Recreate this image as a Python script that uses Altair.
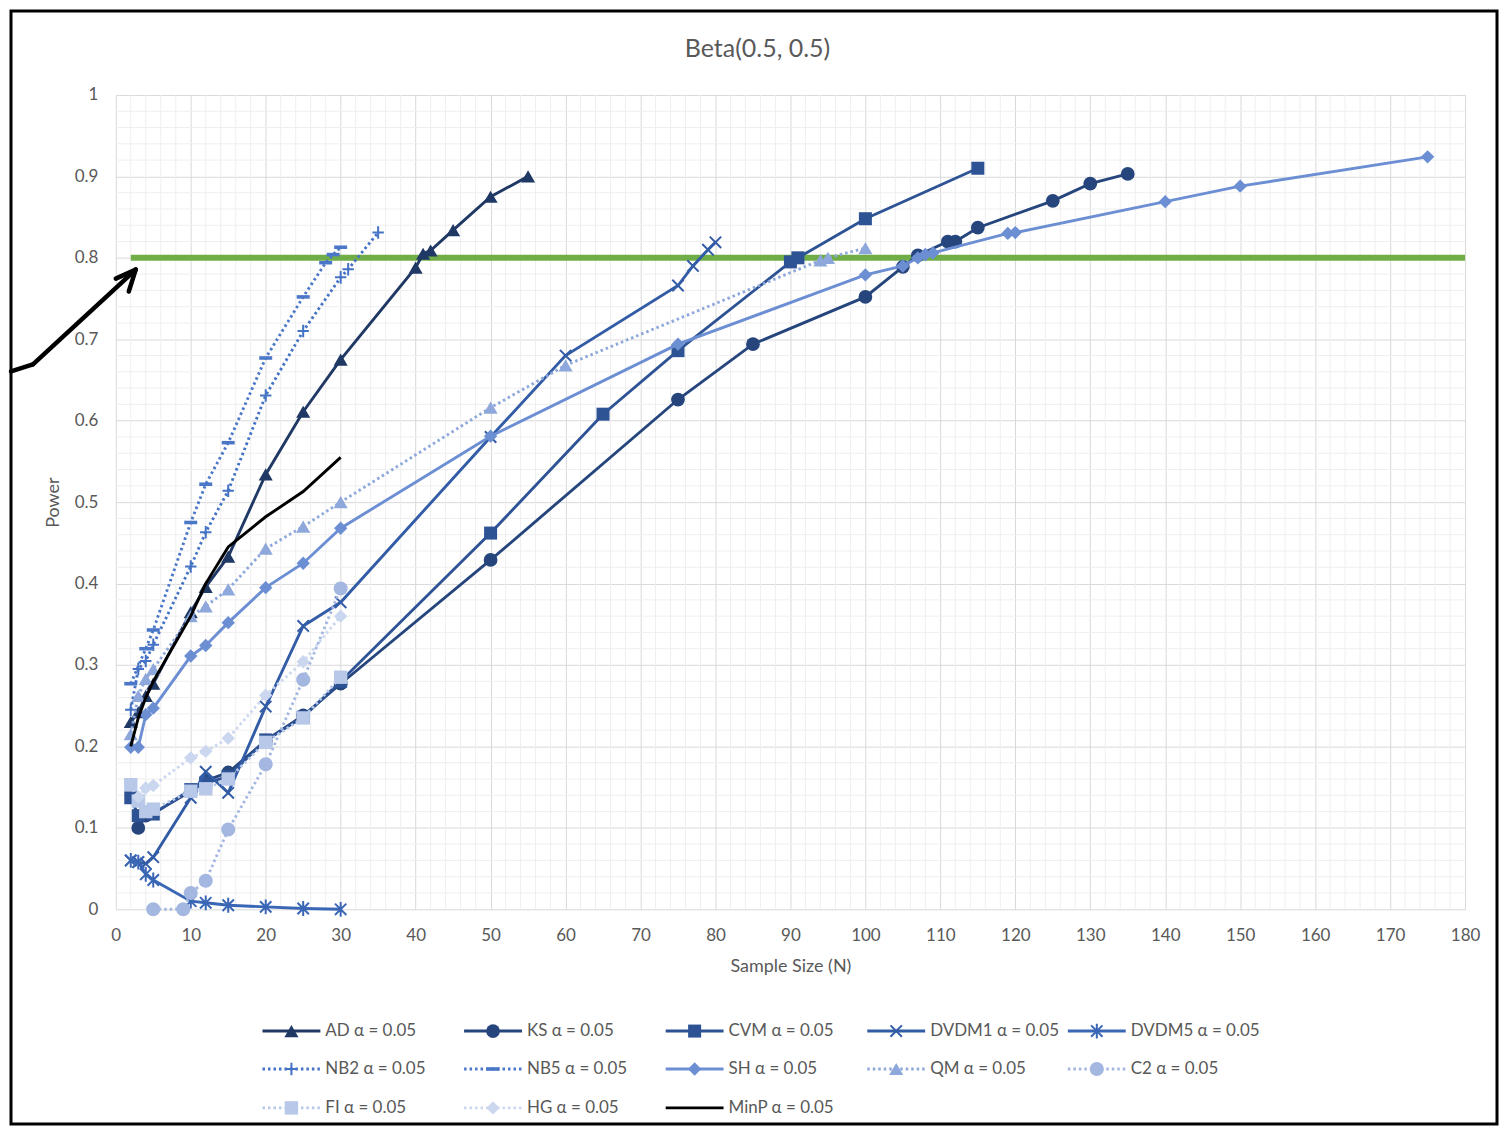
import altair as alt
import pandas as pd

TITLE = "Beta(0.5, 0.5)"
X_TITLE = "Sample Size (N)"
Y_TITLE = "Power"
TARGET_POWER = 0.8
TARGET_N = [2, 180]

AD_N = [2, 3, 4, 5, 10, 12, 15, 20, 25, 30, 40, 41, 42, 45, 50, 55]
AD_P = [0.23, 0.242, 0.262, 0.277, 0.365, 0.396, 0.433, 0.534, 0.611, 0.675, 0.788, 0.805, 0.809, 0.834, 0.875, 0.90]

KS_N = [3, 4, 5, 10, 12, 15, 20, 25, 30, 50, 75, 85, 100, 105, 107, 111, 112, 115, 125, 130, 135]
KS_P = [0.10, 0.115, 0.118, 0.145, 0.158, 0.168, 0.207, 0.238, 0.277, 0.429, 0.626, 0.694, 0.752, 0.789, 0.803, 0.82, 0.82, 0.837, 0.870, 0.891, 0.903]

CVM_N = [2, 3, 4, 5, 10, 12, 15, 20, 25, 30, 50, 65, 75, 90, 91, 100, 115]
CVM_P = [0.137, 0.115, 0.12, 0.117, 0.147, 0.155, 0.163, 0.208, 0.236, 0.28, 0.462, 0.608, 0.686, 0.795, 0.80, 0.848, 0.91]

DVDM1_N = [2, 3, 4, 5, 10, 12, 15, 20, 25, 30, 50, 60, 75, 77, 79, 80]
DVDM1_P = [0.06, 0.058, 0.056, 0.064, 0.137, 0.169, 0.143, 0.249, 0.348, 0.377, 0.58, 0.68, 0.766, 0.79, 0.81, 0.819]

DVDM5_N = [2, 3, 4, 5, 10, 12, 15, 20, 25, 30]
DVDM5_P = [0.06, 0.058, 0.043, 0.036, 0.01, 0.008, 0.005, 0.003, 0.001, 0.0]

NB2_N = [2, 3, 4, 5, 10, 12, 15, 20, 25, 30, 31, 35]
NB2_P = [0.245, 0.295, 0.305, 0.325, 0.421, 0.463, 0.514, 0.631, 0.71, 0.776, 0.786, 0.831]

NB5_N = [2, 4, 5, 10, 12, 15, 20, 25, 28, 29, 30]
NB5_P = [0.277, 0.32, 0.343, 0.475, 0.522, 0.573, 0.677, 0.752, 0.794, 0.804, 0.813]

SH_N = [2, 3, 4, 5, 10, 12, 15, 20, 25, 30, 50, 75, 100, 105, 107, 108, 109, 119, 120, 140, 150, 175]
SH_P = [0.199, 0.199, 0.239, 0.247, 0.311, 0.324, 0.352, 0.395, 0.425, 0.468, 0.581, 0.694, 0.779, 0.79, 0.80, 0.804, 0.806, 0.83, 0.831, 0.869, 0.888, 0.924]

QM_N = [2, 3, 4, 5, 10, 12, 15, 20, 25, 30, 50, 60, 94, 95, 100]
QM_P = [0.215, 0.262, 0.283, 0.295, 0.36, 0.372, 0.393, 0.443, 0.47, 0.50, 0.616, 0.668, 0.797, 0.80, 0.812]

C2_N = [5, 9, 10, 12, 15, 20, 25, 30]
C2_P = [0.0, 0.0, 0.02, 0.035, 0.098, 0.178, 0.282, 0.394]

FI_N = [2, 3, 4, 5, 10, 12, 15, 20, 25, 30]
FI_P = [0.153, 0.133, 0.12, 0.123, 0.145, 0.148, 0.16, 0.205, 0.235, 0.285]

HG_N = [3, 4, 5, 10, 12, 15, 20, 25, 30]
HG_P = [0.138, 0.149, 0.152, 0.186, 0.194, 0.21, 0.263, 0.304, 0.36]

MINP_N = [2, 3, 4, 5, 10, 12, 15, 20, 25, 30]
MINP_P = [0.20, 0.235, 0.26, 0.28, 0.36, 0.40, 0.445, 0.482, 0.513, 0.555]

LABELS = ["AD α = 0.05", "KS α = 0.05", "CVM α = 0.05", "DVDM1 α = 0.05", "DVDM5 α = 0.05",
          "NB2 α = 0.05", "NB5 α = 0.05", "SH α = 0.05", "QM α = 0.05", "C2 α = 0.05",
          "FI α = 0.05", "HG α = 0.05", "MinP α = 0.05"]

X_PATH = "M-1,-1L1,1M-1,1L1,-1"
STAR_PATH = "M-1,-1L1,1M-1,1L1,-1M0,-1.3L0,1.3"
PLUS_PATH = "M-1,0L1,0M0,-1.1L0,1.1"
DASH_PATH = "M-1.1,-0.3L1.1,-0.3L1.1,0.3L-1.1,0.3Z"
DOT = [2.5, 3]

# (N, P, color, dash, shape, filled, size, marker stroke)
STYLES = [
    (AD_N, AD_P, "#203864", None, "triangle-up", True, 200, 1),
    (KS_N, KS_P, "#25457C", None, "circle", True, 190, 1),
    (CVM_N, CVM_P, "#2E5395", None, "square", True, 170, 1),
    (DVDM1_N, DVDM1_P, "#335CA6", None, X_PATH, False, 130, 2),
    (DVDM5_N, DVDM5_P, "#3A66B6", None, STAR_PATH, False, 130, 2),
    (NB2_N, NB2_P, "#4472C4", DOT, PLUS_PATH, False, 130, 2),
    (NB5_N, NB5_P, "#4A77C8", DOT, DASH_PATH, True, 140, 1),
    (SH_N, SH_P, "#6C8ED3", None, "diamond", True, 180, 1),
    (QM_N, QM_P, "#8EA8DB", DOT, "triangle-up", True, 200, 1),
    (C2_N, C2_P, "#A4B7E1", DOT, "circle", True, 200, 1),
    (FI_N, FI_P, "#B7C8E8", DOT, "square", True, 180, 1),
    (HG_N, HG_P, "#CBD7EF", DOT, "diamond", True, 180, 1),
    (MINP_N, MINP_P, "#000000", None, None, True, 0, 1),
]

FONT = "Lato"
GRAY = "#595959"
W, H = 1352, 816
ROW_Y = [938, 976, 1015]
COL_X = [147, 349, 551, 753, 954]
SEG = 58

xscale = alt.Scale(domain=[0, 180], nice=False, zero=False)
yscale = alt.Scale(domain=[0, 1], nice=False)
xaxis = alt.Axis(values=list(range(0, 181, 10)), title=X_TITLE, grid=True, gridColor="#D9D9D9",
                 domain=False, ticks=False, labelFlush=False, labelFontSize=17, labelColor=GRAY,
                 labelFont=FONT, labelPadding=18, titleFontSize=18, titleFont=FONT, titleColor=GRAY,
                 titleFontWeight="normal", titlePadding=14)
yaxis = alt.Axis(values=[round(v * 0.1, 1) for v in range(11)], format=".1~f", title=Y_TITLE,
                 grid=True, gridColor="#D9D9D9", domain=False, ticks=False, labelFlush=False,
                 labelFontSize=17, labelColor=GRAY, labelFont=FONT, labelPadding=18, titleFontSize=18,
                 titleFont=FONT, titleColor=GRAY, titleFontWeight="normal", titlePadding=12)

X = alt.X("N:Q", scale=xscale, axis=xaxis)
Y = alt.Y("Power:Q", scale=yscale, axis=yaxis)

layers = []
minor_x = [v for v in range(0, 181, 2) if v % 10]
minor_y = [round(v * 0.02, 2) for v in range(51) if v % 5]
layers.append(alt.Chart(pd.DataFrame({"N": minor_x})).mark_rule(color="#EFEFEF", strokeWidth=1)
              .encode(x=X))
layers.append(alt.Chart(pd.DataFrame({"Power": minor_y})).mark_rule(color="#EFEFEF", strokeWidth=1)
              .encode(y=Y))

layers.append(alt.Chart(pd.DataFrame({"N": TARGET_N, "Power": [TARGET_POWER] * 2}))
              .mark_line(color="#70AD47", strokeWidth=6).encode(x=X, y=Y))

for (n, p, color, dash, shape, filled, size, sw) in STYLES:
    df = pd.DataFrame({"N": n, "Power": p})
    lk = dict(color=color, strokeWidth=2.9)
    if dash:
        lk["strokeDash"] = dash
    layers.append(alt.Chart(df).mark_line(**lk).encode(x=X, y=Y))
    if shape:
        pk = dict(shape=shape, filled=filled, size=size, color=color, opacity=1, strokeWidth=sw)
        layers.append(alt.Chart(df).mark_point(**pk).encode(x=X, y=Y))

# legend (pixel positions via identity scales)
for i, (label, st) in enumerate(zip(LABELS, STYLES)):
    n, p, color, dash, shape, filled, size, sw = st
    r, c = divmod(i, 5)
    x0 = COL_X[c]
    ld = pd.DataFrame({"x0": [x0], "x1": [x0 + SEG], "xm": [x0 + SEG / 2], "xt": [x0 + SEG + 5],
                       "y": [ROW_Y[r]], "label": [label]})
    rk = dict(color=color, strokeWidth=2.9)
    if dash:
        rk["strokeDash"] = dash
    layers.append(alt.Chart(ld).mark_rule(**rk).encode(
        x=alt.X("x0:Q", scale=None), x2="x1:Q", y=alt.Y("y:Q", scale=None)))
    if shape:
        layers.append(alt.Chart(ld).mark_point(shape=shape, filled=filled, size=size, color=color,
                                               opacity=1, strokeWidth=sw).encode(
            x=alt.X("xm:Q", scale=None), y=alt.Y("y:Q", scale=None)))
    layers.append(alt.Chart(ld).mark_text(align="left", baseline="middle", fontSize=17, font=FONT,
                                          color=GRAY).encode(
        x=alt.X("xt:Q", scale=None), y=alt.Y("y:Q", scale=None), text="label:N"))

# title, frame and arrow annotation
one = pd.DataFrame({"a": [0]})
layers.append(alt.Chart(one).mark_text(fontSize=25, font=FONT, color=GRAY, align="center",
                                       baseline="middle", text=TITLE).encode(
    x=alt.value(643), y=alt.value(-46)))
layers.append(alt.Chart(one).mark_rect(fillOpacity=0, stroke="black", strokeWidth=3).encode(
    x=alt.value(-105), x2=alt.value(1384), y=alt.value(-84), y2=alt.value(1031)))
ARROW = [((-105, 277), (-83, 270)), ((-83, 270), (20, 175)), ((20, 175), (0, 184)), ((20, 175), (13, 197))]
for (ax, ay), (bx, by) in ARROW:
    layers.append(alt.Chart(one).mark_rule(color="black", strokeWidth=4.5, strokeCap="round").encode(
        x=alt.value(ax), y=alt.value(ay), x2=alt.value(bx), y2=alt.value(by)))

chart = alt.layer(*layers).properties(width=W, height=H, padding=0).configure_view(stroke=None)

chart.save("out.html", embed_options={"renderer": "svg", "actions": False})
